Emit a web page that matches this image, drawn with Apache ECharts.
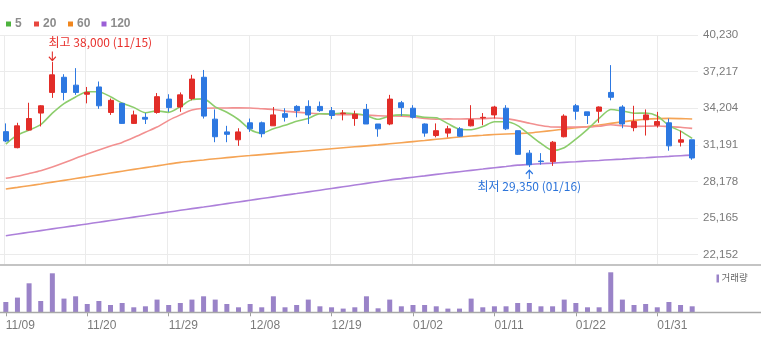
<!DOCTYPE html>
<html>
<head>
<meta charset="utf-8">
<script src="https://cdn.jsdelivr.net/npm/echarts@6/dist/echarts.min.js"></script>
<style>
  html, body { margin: 0; padding: 0; background: #fff; }
  #chart { width: 761px; height: 341px; }
</style>
</head>
<body>
<div id="chart"></div>
<script>
// Trading days (MM/DD)
const dates = [
  '11/09','11/10','11/13','11/14','11/15','11/16','11/17','11/20','11/21','11/22',
  '11/23','11/24','11/27','11/28','11/29','11/30','12/01','12/04','12/05','12/06',
  '12/07','12/08','12/11','12/12','12/13','12/14','12/15','12/18','12/19','12/20',
  '12/21','12/22','12/26','12/27','12/28','01/02','01/03','01/04','01/05','01/08',
  '01/09','01/10','01/11','01/12','01/15','01/16','01/17','01/18','01/19','01/22',
  '01/23','01/24','01/25','01/26','01/29','01/30','01/31','02/01','02/02','02/05'
];

// Daily prices
const openPrices = [
  32270,30950,32400,33800,35500,36750,36100,35350,35950,33850,
  34600,32950,33450,33850,34950,34300,35000,36750,33300,32250,
  31600,33000,33000,32750,33750,34350,34350,34350,34000,33750,
  33350,34100,32900,32900,34650,34200,32900,31950,32150,32500,
  32750,33400,33650,34200,32350,30500,29850,29800,31850,34400,
  33900,33950,35500,34300,32600,33250,32800,33000,31400,31600
];
const closePrices = [
  31500,32750,33350,34400,36950,35500,35500,35500,34400,34850,
  32950,33650,33300,35150,34250,35300,36600,33550,31850,32050,
  32250,32500,32100,33650,33450,34000,33650,34000,33600,33800,
  33700,32900,32500,34950,34250,33450,32150,32350,32500,31900,
  33250,33450,34300,32500,30400,29550,29800,31400,33550,33950,
  33600,34300,35100,32900,33100,33650,33100,31100,31600,30100
];
const lowPrices = [
  31400,30900,32350,32700,35050,34850,35300,34600,34150,33650,
  32900,32900,32900,33750,33900,33900,34850,33350,31400,31400,
  31100,32250,31800,32750,33100,33450,32900,33900,33300,33200,
  32750,32900,31850,32800,33550,33350,31850,31800,31800,31850,
  32700,32800,33350,32400,30350,29350,29550,29450,31800,33250,
  32900,33000,34850,32550,32300,31950,32600,30700,31050,29950
];
const highPrices = [
  32950,33000,34650,34450,38000,37000,37500,35950,36400,35000,
  34650,34000,33800,35450,35350,35500,36950,37350,34100,32750,
  32550,33350,33100,34300,34200,34450,34850,34750,34300,34050,
  34000,34550,32900,35300,34800,34450,32950,32950,32750,32650,
  34450,33800,34400,34450,32350,30750,30500,31500,33700,34550,
  33900,34350,37750,34450,34400,34100,33900,33350,32350,31600
];

// Moving averages
const ma5 = [
  31250,32000,32400,32850,33790,34580,35130,35560,35560,35140,
  34630,34270,33830,33980,33860,34330,34910,34970,34310,33870,
  33270,32450,32150,32510,32790,33130,33360,33740,33720,33800,
  33740,33590,33290,33560,33650,33600,33450,33420,32930,32470,
  32430,32690,33080,33080,32770,32030,31300,30720,30940,31650,
  32460,33360,34100,33970,33790,33800,33560,32770,32310,31710
];
const ma20 = [
  28430,28600,28820,29050,29350,29700,30080,30420,30760,31080,
  31380,31780,32220,32650,33200,33650,34050,34200,34220,34220,
  34230,34220,34160,34100,33960,33880,33800,33740,33700,33660,
  33680,33640,33580,33560,33550,33480,33350,33300,33320,33310,
  33330,33340,33400,33340,33180,32970,32780,32650,32640,32650,
  32650,32720,32840,32750,32700,32710,32740,32680,32630,32540
];
const ma60 = [
  27550,27680,27820,27960,28110,28260,28410,28560,28710,28860,
  29010,29160,29310,29450,29600,29740,29840,29940,30040,30130,
  30220,30300,30380,30460,30540,30620,30700,30780,30860,30940,
  31020,31100,31180,31270,31360,31450,31540,31640,31740,31830,
  31910,31970,32030,32080,32120,32160,32260,32370,32480,32590,
  32700,32820,32950,33080,33200,33290,33340,33360,33340,33310
];
const ma120 = [
  23700,23840,23980,24120,24260,24400,24530,24670,24810,24950,
  25090,25230,25370,25510,25650,25790,25930,26060,26200,26340,
  26480,26620,26760,26900,27040,27170,27310,27450,27590,27730,
  27870,28010,28150,28290,28400,28520,28630,28750,28860,28970,
  29080,29190,29300,29400,29510,29570,29630,29680,29740,29790,
  29850,29900,29960,30010,30070,30120,30180,30230,30290,30340
];

// Daily volume (shares)
const volumes = [
  103000,147000,290000,113000,390000,137000,160000, 83000,113000, 73000,
   93000, 50000, 60000,127000, 73000, 93000,127000,160000,127000, 83000,
   50000, 83000, 50000,160000, 50000, 73000,127000, 60000, 50000, 37000,
   50000,160000, 40000,127000, 60000, 73000, 73000, 60000, 37000, 37000,
  137000, 50000, 60000, 60000, 93000, 93000, 60000, 60000,127000, 93000,
   50000, 50000,400000,127000, 73000, 83000, 50000,103000, 73000, 60000
];

// Price axis ticks
const priceTicks = [22152, 25165, 28178, 31191, 34204, 37217, 40230];
const maNames = ['5', '20', '60', '120'];

const UP = '#e22d28', DOWN = '#2d78e1';
const FONT = '"Liberation Sans", Arial, sans-serif';
const KFONT = '"Noto Sans CJK KR", "Noto Sans", sans-serif';

const fmt = v => String(v).replace(/\B(?=(\d{3})+(?!\d))/g, ',');

const candles = dates.map((d, i) => [openPrices[i], closePrices[i], lowPrices[i], highPrices[i]]);

// Period high / low for the annotations
let hiIdx = 0, loIdx = 0;
highPrices.forEach((v, i) => { if (v > highPrices[hiIdx]) hiIdx = i; });
lowPrices.forEach((v, i) => { if (v < lowPrices[loIdx]) loIdx = i; });

const chart = echarts.init(document.getElementById('chart'), null, { renderer: 'canvas' });

const maLine = (name, data, color, z) => ({
  name, type: 'line', data, xAxisIndex: 0, yAxisIndex: 0,
  symbol: 'none', smooth: 0.25, z,
  lineStyle: { color, width: 1.6 },
  itemStyle: { color }
});

const legendColors = ['#4db33d', '#e8473f', '#f0861e', '#9b5fd6'];
const legendX = [6, 34, 68, 101.5];
const legendGraphics = [];
maNames.forEach((n, k) => {
  legendGraphics.push({ type: 'rect', left: legendX[k], top: 21.5, shape: { width: 5, height: 5 }, style: { fill: legendColors[k] } });
  legendGraphics.push({ type: 'text', left: legendX[k] + 9, top: 17.5, style: { text: n, fill: '#8c8c8c', font: 'bold 12px ' + FONT } });
});

chart.setOption({
  animation: false,
  backgroundColor: '#fff',
  grid: [
    { left: -2, width: 700, top: 35, height: 219.5 },
    { left: -2, width: 700, top: 265, height: 47.3 },
    { left: 3.833, width: 688.33, top: 35, height: 230 }
  ],
  xAxis: [
    { gridIndex: 0, type: 'category', data: dates, boundaryGap: true,
      axisLine: { show: false }, axisTick: { show: false }, axisLabel: { show: false }, splitLine: { show: false } },
    { gridIndex: 1, type: 'category', data: dates, boundaryGap: true,
      axisLine: { show: false },
      axisTick: { show: true, alignWithLabel: true, interval: 6, length: 4, lineStyle: { color: '#a0a0a0' } },
      axisLabel: { interval: 6, align: 'left', margin: 7, color: '#7a7a7a', fontSize: 12, fontFamily: FONT },
      splitLine: { show: false } },
    { gridIndex: 2, type: 'category', data: dates, boundaryGap: false,
      axisLine: { show: false }, axisTick: { show: false }, axisLabel: { show: false },
      splitLine: { show: true, interval: 6, lineStyle: { color: '#ebebeb', width: 1 } } }
  ],
  yAxis: [
    { gridIndex: 0, type: 'value', position: 'right',
      min: priceTicks[0], max: priceTicks[priceTicks.length - 1], interval: priceTicks[1] - priceTicks[0],
      axisLine: { show: false }, axisTick: { show: false },
      axisLabel: { margin: 5, color: '#7a7a7a', fontSize: 11.5, fontFamily: FONT, formatter: v => fmt(v) },
      splitLine: { show: true, lineStyle: { color: '#ebebeb', width: 1 } } },
    { gridIndex: 1, type: 'value', min: 0, max: 473000, show: false, splitLine: { show: false } },
    { gridIndex: 2, type: 'value', show: false, splitLine: { show: false } }
  ],
  series: [
    maLine(maNames[3], ma120, '#ad80da', 2),
    maLine(maNames[2], ma60, '#f5a455', 2),
    maLine(maNames[1], ma20, '#f29090', 2),
    maLine(maNames[0], ma5, '#8ccd6c', 3),
    {
      name: '가격', type: 'candlestick', data: candles, xAxisIndex: 0, yAxisIndex: 0, z: 4,
      barWidth: 5.5,
      itemStyle: { color: UP, color0: DOWN, borderColor: UP, borderColor0: DOWN, borderWidth: 1 },
      markPoint: {
        silent: true,
        data: [
          {
            coord: [hiIdx, highPrices[hiIdx]],
            symbol: 'path://M5 0 L5 12 M1 7 L5 12 L9 7',
            symbolSize: [7, 9], symbolOffset: [0, -6],
            itemStyle: { color: 'none', borderColor: UP, borderWidth: 1.2 },
            label: { show: true, position: 'top', distance: 2, offset: [48, 2],
              formatter: '최고 ' + fmt(highPrices[hiIdx]) + ' (' + dates[hiIdx] + ')',
              color: '#e8312d', fontSize: 12, fontFamily: KFONT }
          },
          {
            coord: [loIdx, lowPrices[loIdx]],
            symbol: 'path://M5 12 L5 0 M1 5 L5 0 L9 5',
            symbolSize: [7, 9], symbolOffset: [0, 7.5],
            itemStyle: { color: 'none', borderColor: DOWN, borderWidth: 1.2 },
            label: { show: true, position: 'bottom', distance: 1, offset: [0, -3],
              formatter: '최저 ' + fmt(lowPrices[loIdx]) + ' (' + dates[loIdx] + ')',
              color: '#2b73d9', fontSize: 12, fontFamily: KFONT }
          }
        ]
      }
    },
    {
      name: '거래량', type: 'bar', data: volumes, xAxisIndex: 1, yAxisIndex: 1,
      barWidth: 5, itemStyle: { color: '#9a83c8' }
    }
  ],
  graphic: [
    ...legendGraphics,
    { type: 'line', shape: { x1: 0, y1: 265, x2: 761, y2: 265 }, style: { stroke: '#c4c4c4', lineWidth: 2 }, z: 10 },
    { type: 'line', shape: { x1: 0, y1: 312.5, x2: 761, y2: 312.5 }, style: { stroke: '#a8a8a8', lineWidth: 1.5 }, z: 10 },
    { type: 'rect', left: 716.5, top: 274.5, shape: { width: 2.5, height: 8 }, style: { fill: '#9a83c8' } },
    { type: 'text', left: 721.5, top: 273, style: { text: '거래량', fill: '#666', font: '9.5px ' + KFONT } }
  ]
});
</script>
</body>
</html>
